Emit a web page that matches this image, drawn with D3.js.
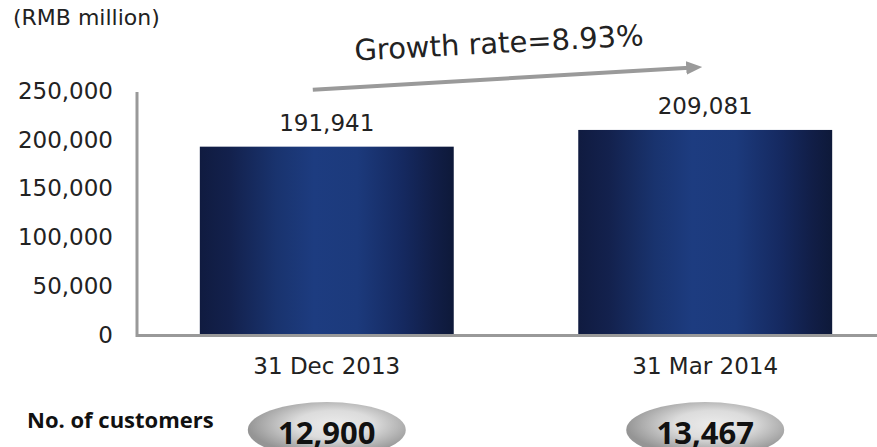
<!DOCTYPE html>
<html><head><meta charset="utf-8">
<script src="https://cdn.jsdelivr.net/npm/d3@7"></script>
<style>html,body{margin:0;padding:0;background:#fff;} text{font-family:"DejaVu Sans",sans-serif;}</style>
</head><body><svg id="c" width="877" height="447"></svg>
<script>
const categories = ["31 Dec 2013", "31 Mar 2014"];
const values = [191941, 209081];
const customers = ["12,900", "13,467"];
const yTicks = [0, 50000, 100000, 150000, 200000, 250000];
const unitLabel = "(RMB million)";
const growthLabel = "Growth rate=8.93%";
const customersLabel = "No. of customers";

const svg = d3.select("#c");
const defs = svg.append("defs");
const bg = defs.append("linearGradient").attr("id","barGrad").attr("x1","0").attr("x2","1").attr("y1","0").attr("y2","0");
[[0,"#101b40"],[0.12,"#13214d"],[0.3,"#19336e"],[0.45,"#1d3c80"],[0.62,"#1c3a7c"],[0.8,"#152960"],[0.92,"#111e47"],[1,"#0e1939"]]
  .forEach(([o,c])=>bg.append("stop").attr("offset",o).attr("stop-color",c));
const eg = defs.append("radialGradient").attr("id","ellGrad").attr("cx","0.55").attr("cy","0.4").attr("r","0.55");
[[0,"#ebebeb"],[0.45,"#dcdcdc"],[1,"#959595"]].forEach(([o,c])=>eg.append("stop").attr("offset",o).attr("stop-color",c));
defs.append("marker").attr("id","arrow").attr("viewBox","0 0 10 10").attr("refX","2").attr("refY","5")
  .attr("markerWidth","4").attr("markerHeight","3.4").attr("orient","auto").attr("preserveAspectRatio","none")
  .append("path").attr("d","M0,0 L10,5 L0,10 z").attr("fill","#9a9a9a");

const x0 = 137;
const x = d3.scaleBand().domain(categories).range([x0, 895]).paddingInner(0.329).paddingOuter(0.166);
const y = d3.scaleLinear().domain([0, 250000]).range([334, 90]);
const cx = c => x(c) + x.bandwidth() / 2;

// y axis labels
const yAxis = d3.axisLeft(y).tickValues(yTicks).tickFormat(d3.format(",")).tickSize(0).tickPadding(0);
const ga = svg.append("g").attr("transform","translate(113,0)").call(yAxis);
ga.select(".domain").remove();
ga.selectAll("text").attr("font-size",23).attr("fill","#222").attr("dy","0.36em")
  .style("font-family","'DejaVu Sans'");

// bars
svg.selectAll("rect.bar").data(values).enter().append("rect").attr("class","bar")
  .attr("x",(d,i)=>x(categories[i])).attr("width",x.bandwidth())
  .attr("y",d=>y(d)).attr("height",d=>y(0)-y(d)+1).attr("fill","url(#barGrad)");

// axis lines
svg.append("path").attr("d",`M${x0},${y(250000)+2}V${y(0)+1.5}H877`).attr("fill","none").attr("stroke","#999").attr("stroke-width",3);

// value labels
svg.selectAll("text.val").data(values).enter().append("text").attr("class","val")
  .attr("x",(d,i)=>cx(categories[i])).attr("y",d=>y(d)-16)
  .attr("text-anchor","middle").attr("font-size",23).attr("fill","#222").text(d=>d3.format(",")(d));

// category labels
svg.selectAll("text.cat").data(categories).enter().append("text").attr("class","cat")
  .attr("x",d=>cx(d)).attr("y",374)
  .attr("text-anchor","middle").attr("font-size",23).attr("fill","#222").text(d=>d);

// unit label
svg.append("text").attr("x",13).attr("y",25).attr("font-size",22).attr("fill","#222").text(unitLabel);

// growth arrow
const sx = cx(categories[0]) - 14, sy = y(values[0]) - 57;
const tx = cx(categories[1]) - 3, ty = y(values[1]) - 63;
const len = Math.hypot(tx - sx, ty - sy), back = 12.8;
svg.append("line").attr("x1",sx).attr("y1",sy)
  .attr("x2",tx - (tx - sx) / len * back).attr("y2",ty - (ty - sy) / len * back)
  .attr("stroke","#9a9a9a").attr("stroke-width",4).attr("marker-end","url(#arrow)");
const ang = Math.atan2(ty - sy, tx - sx) * 180 / Math.PI * 0.9;
svg.append("text").attr("transform",`translate(${(sx+tx)/2 - 8},53) rotate(${ang})`).attr("text-anchor","middle")
  .attr("font-size",29).attr("fill","#222").text(growthLabel);

// customers
svg.append("text").attr("x",27).attr("y",428).attr("font-size",22).attr("font-weight","bold")
  .style("font-family","'Open Sans'").attr("fill","#111").text(customersLabel);
svg.selectAll("ellipse.cust").data(customers).enter().append("ellipse").attr("class","cust")
  .attr("cx",(d,i)=>cx(categories[i])).attr("cy",430).attr("rx",79).attr("ry",28)
  .attr("fill","url(#ellGrad)");
svg.selectAll("text.cust").data(customers).enter().append("text").attr("class","cust")
  .attr("x",(d,i)=>cx(categories[i])).attr("y",444)
  .attr("text-anchor","middle").attr("font-size",31).attr("font-weight","bold")
  .style("font-family","'Open Sans'").attr("fill","#111").text(d=>d);
</script></body></html>
